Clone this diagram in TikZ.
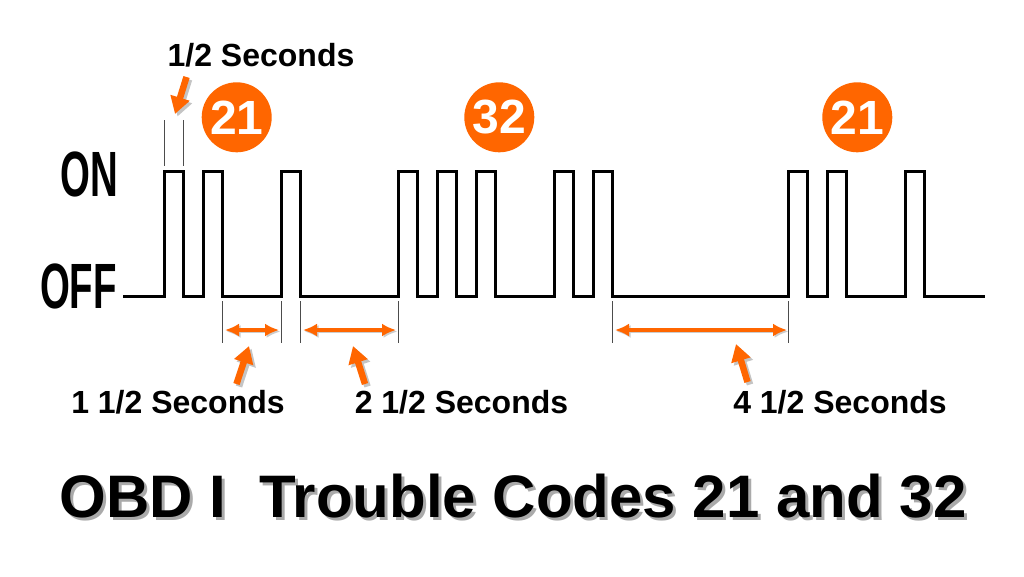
\documentclass[tikz,border=0pt]{standalone}
\usepackage{fontspec}
\setmainfont{Liberation Sans}
\usetikzlibrary{arrows.meta}
\definecolor{obdorange}{RGB}{255,102,0}
\definecolor{shadowgray}{RGB}{170,170,170}
\newcommand{\shadowtext}[1]{\makebox[0pt][l]{\kern3pt\raisebox{-3pt}{\textcolor{shadowgray}{#1}}}#1}
\begin{document}
\begin{tikzpicture}[x=1pt,y=-1pt,
  wave/.style={line width=3pt,black,line join=miter},
  tick/.style={line width=0.8pt,black!70},
  dim/.style={line width=3.4pt,obdorange,{Latex[length=14pt,width=13pt]}-{Latex[length=14pt,width=13pt]}},
  dimshadow/.style={line width=3.4pt,shadowgray!60,{Latex[length=14pt,width=13pt]}-{Latex[length=14pt,width=13pt]}},
  pointer/.style={line width=6.5pt,obdorange,-{Triangle[length=17pt,width=19pt]}},
  pointershadow/.style={line width=6.5pt,shadowgray!70,-{Triangle[length=17pt,width=19pt]}},
  code/.style={circle,fill=obdorange,minimum size=70pt,inner sep=0pt,text=white,font=\bfseries\fontsize{48}{48}\selectfont},
  seclabel/.style={anchor=base,inner sep=0pt,font=\bfseries\fontsize{32}{32}\selectfont},
  level/.style={anchor=base east,inner sep=0pt,xscale=0.6,font=\bfseries\fontsize{64}{64}\selectfont},
  title/.style={anchor=base,inner sep=0pt,font=\bfseries\fontsize{60}{60}\selectfont}
]
\useasboundingbox (0,0) rectangle (1024,576);
\fill[white] (0,0) rectangle (1024,576);

% level labels
\node[level] (on) at (118,196.5) {ON};
\node[level] (off) at (117,308) {OFF};

% waveform
\draw[wave] (123,296) -- (164,296) -- (164,171) -- (183.5,171) -- (183.5,296)
  -- (203,296) -- (203,171) -- (222.5,171) -- (222.5,296)
  -- (281,296) -- (281,171) -- (300.5,171) -- (300.5,296)
  -- (398,296) -- (398,171) -- (417.5,171) -- (417.5,296)
  -- (437,296) -- (437,171) -- (456.5,171) -- (456.5,296)
  -- (476,296) -- (476,171) -- (495.5,171) -- (495.5,296)
  -- (554,296) -- (554,171) -- (573.5,171) -- (573.5,296)
  -- (593,296) -- (593,171) -- (612.5,171) -- (612.5,296)
  -- (788,296) -- (788,171) -- (807.5,171) -- (807.5,296)
  -- (827,296) -- (827,171) -- (846.5,171) -- (846.5,296)
  -- (905,296) -- (905,171) -- (924.5,171) -- (924.5,296)
  -- (985,296);

% ticks
\draw[tick] (164,120) -- (164,166);
\draw[tick] (183.5,120) -- (183.5,166);
\foreach \tx in {222.5,281,300.5,398,612.5,788}
  \draw[tick] (\tx,301) -- (\tx,343);

% dimension arrows
\coordinate (d1a) at (225,330); \coordinate (d1b) at (279,330);
\coordinate (d2a) at (303,330); \coordinate (d2b) at (396,330);
\coordinate (d3a) at (615,330); \coordinate (d3b) at (787,330);
\draw[dimshadow] ([shift={(1.5,1.5)}]d1a) -- ([shift={(1.5,1.5)}]d1b);
\draw[dimshadow] ([shift={(1.5,1.5)}]d2a) -- ([shift={(1.5,1.5)}]d2b);
\draw[dimshadow] ([shift={(1.5,1.5)}]d3a) -- ([shift={(1.5,1.5)}]d3b);
\draw[dim] (d1a) -- (d1b);
\draw[dim] (d2a) -- (d2b);
\draw[dim] (d3a) -- (d3b);

% code circles
\node[code] (c1) at (236.7,117.3) {21};
\node[code] (c2) at (499.3,117.3) {32};
\node[code] (c3) at (857.3,117.3) {21};

% labels
\node[seclabel] (half) at (261,66.5) {1/2 Seconds};
\node[seclabel] (s1) at (178,413.5) {1 1/2 Seconds};
\node[seclabel] (s2) at (461.5,413.5) {2 1/2 Seconds};
\node[seclabel] (s4) at (840,413.5) {4 1/2 Seconds};

% pointer arrows
\coordinate (p0t) at (186.5,77); \coordinate (p0h) at (175,114);
\coordinate (p1t) at (236.5,384); \coordinate (p1h) at (249,346);
\coordinate (p2t) at (365,384); \coordinate (p2h) at (353,346);
\coordinate (p3t) at (747.5,382); \coordinate (p3h) at (736,344);
\draw[pointershadow] ([shift={(2.5,2.5)}]p0t) -- ([shift={(2.5,2.5)}]p0h);
\draw[pointershadow] ([shift={(2.5,2.5)}]p1t) -- ([shift={(2.5,2.5)}]p1h);
\draw[pointershadow] ([shift={(2.5,2.5)}]p2t) -- ([shift={(2.5,2.5)}]p2h);
\draw[pointershadow] ([shift={(2.5,2.5)}]p3t) -- ([shift={(2.5,2.5)}]p3h);
\draw[pointer] (p0t) -- (p0h);
\draw[pointer] (p1t) -- (p1h);
\draw[pointer] (p2t) -- (p2h);
\draw[pointer] (p3t) -- (p3h);

% title with shadow
\node[title] (title) at (513,517) {\shadowtext{OBD I\ \ Trouble Codes 21 and 32}};
\end{tikzpicture}
\end{document}
